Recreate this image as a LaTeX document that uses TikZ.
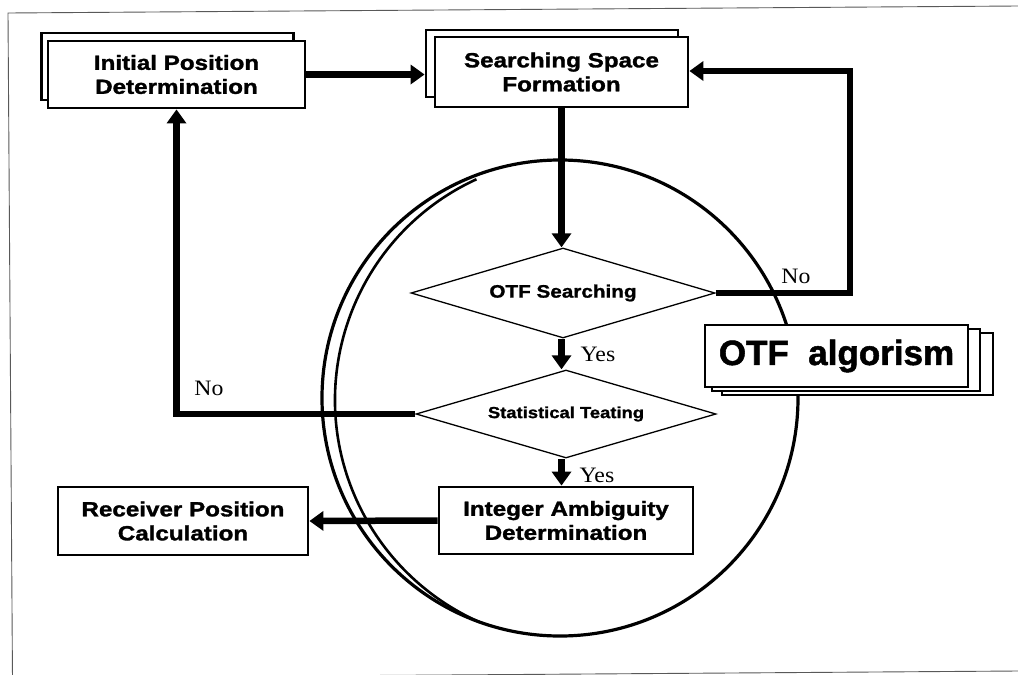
\documentclass[tikz,border=0pt]{standalone}
\usepackage{fontspec}
\setmainfont{Liberation Sans}
\newfontfamily\boxfont[FakeStretch=1.18,FakeBold=1.5]{Liberation Sans}
\newfontfamily\dfont[FakeStretch=1.15,FakeBold=1.2]{Liberation Sans}
\newfontfamily\algfont[FakeBold=1.5]{Liberation Sans}
\newfontfamily\serfont[FakeStretch=1.08]{Liberation Serif}
\usetikzlibrary{arrows.meta,shapes.geometric}
\begin{document}
\begin{tikzpicture}[x=1pt,y=-1pt,
  box/.style={draw, line width=2.8pt, fill=white, inner sep=0pt, align=center,
    font=\boxfont\bfseries\fontsize{20.5}{24}\selectfont},
  decision/.style={diamond, draw, line width=1.3pt, shape aspect=3.4, inner sep=0pt, align=center},
  layer/.style={draw, line width=1.3pt, fill=white, inner sep=0pt},
  conn/.style={line width=6.5pt, -{Triangle[length=14pt,width=19pt]}},
  lbl/.style={font=\serfont\fontsize{22}{24}\selectfont, inner sep=0pt},
  frame/.style={draw=black!65, line width=0.9pt}
]
\useasboundingbox[fill=white] (0,0) rectangle (1018,675);
% outer frame (scanned page border)
\draw[frame] (1018,6) -- (8,13) -- (12.5,680);
\draw[frame] (12.5,678) -- (1018,671);

% circle with inner double arc
\draw[line width=3.2pt] (560,398) circle[radius=238pt];
\draw[line width=2.6pt] ([shift={(114.7:243pt)}]578,400) arc[start angle=114.7, end angle=246.2, radius=243pt];

% boxes
\node[box, minimum width=252pt, minimum height=67pt] (initback) at (167.5,66.5) {};
\node[box, minimum width=257pt, minimum height=67pt] (init) at (176.5,74.5) {Initial Position\\Determination};
\node[box, minimum width=252pt, minimum height=67pt] (searchback) at (552,63.5) {};
\node[box, minimum width=253pt, minimum height=70pt] (search) at (561.5,72) {Searching Space\\Formation};
\node[box, minimum width=254pt, minimum height=67pt] (integer) at (566,520.5) {Integer Ambiguity\\Determination};
\node[box, minimum width=250pt, minimum height=68pt] (receiver) at (183,521) {Receiver Position\\Calculation};

% decisions
\node[decision, minimum width=304pt, minimum height=90pt,
  font=\dfont\bfseries\fontsize{18}{20}\selectfont] (otf) at (563,293) {OTF Searching};
\node[decision, minimum width=300pt, minimum height=88pt,
  font=\dfont\bfseries\fontsize{16}{18}\selectfont] (stat) at (566,414) {Statistical Teating};

% OTF algorism stack
\node[layer, minimum width=271pt, minimum height=62pt] (alg3) at (857.5,364) {};
\node[layer, minimum width=268pt, minimum height=62pt] (alg2) at (846,360) {};
\node[layer, minimum width=263pt, minimum height=62pt,
  font=\algfont\bfseries\fontsize{35}{38}\selectfont] (alg) at (836.5,356) {OTF\ \ algorism};

% connectors
\coordinate (rloop) at (850,71);
\draw[conn] (init.east) -- (init.east -| searchback.west);
\draw[conn] (search.south) -- (search.south |- otf.north);
\draw[conn] (otf.south -| search.south) -- (stat.north -| search.south);
\draw[conn] (stat.south -| search.south) -- (integer.north -| search.south);
\draw[conn] (otf.east) -- (otf.east -| rloop) -- (rloop) -- (rloop -| search.east);
\draw[conn] (stat.west) -- (stat.west -| init.south) -- (init.south);
\draw[conn] (integer.west) -- (receiver.east);

% labels
\node[lbl] (noR) at (796,276) {No};
\node[lbl] (noL) at (209,388) {No};
\node[lbl] (yes1) at (598,354) {Yes};
\node[lbl] (yes2) at (597,475) {Yes};
\end{tikzpicture}
\end{document}
